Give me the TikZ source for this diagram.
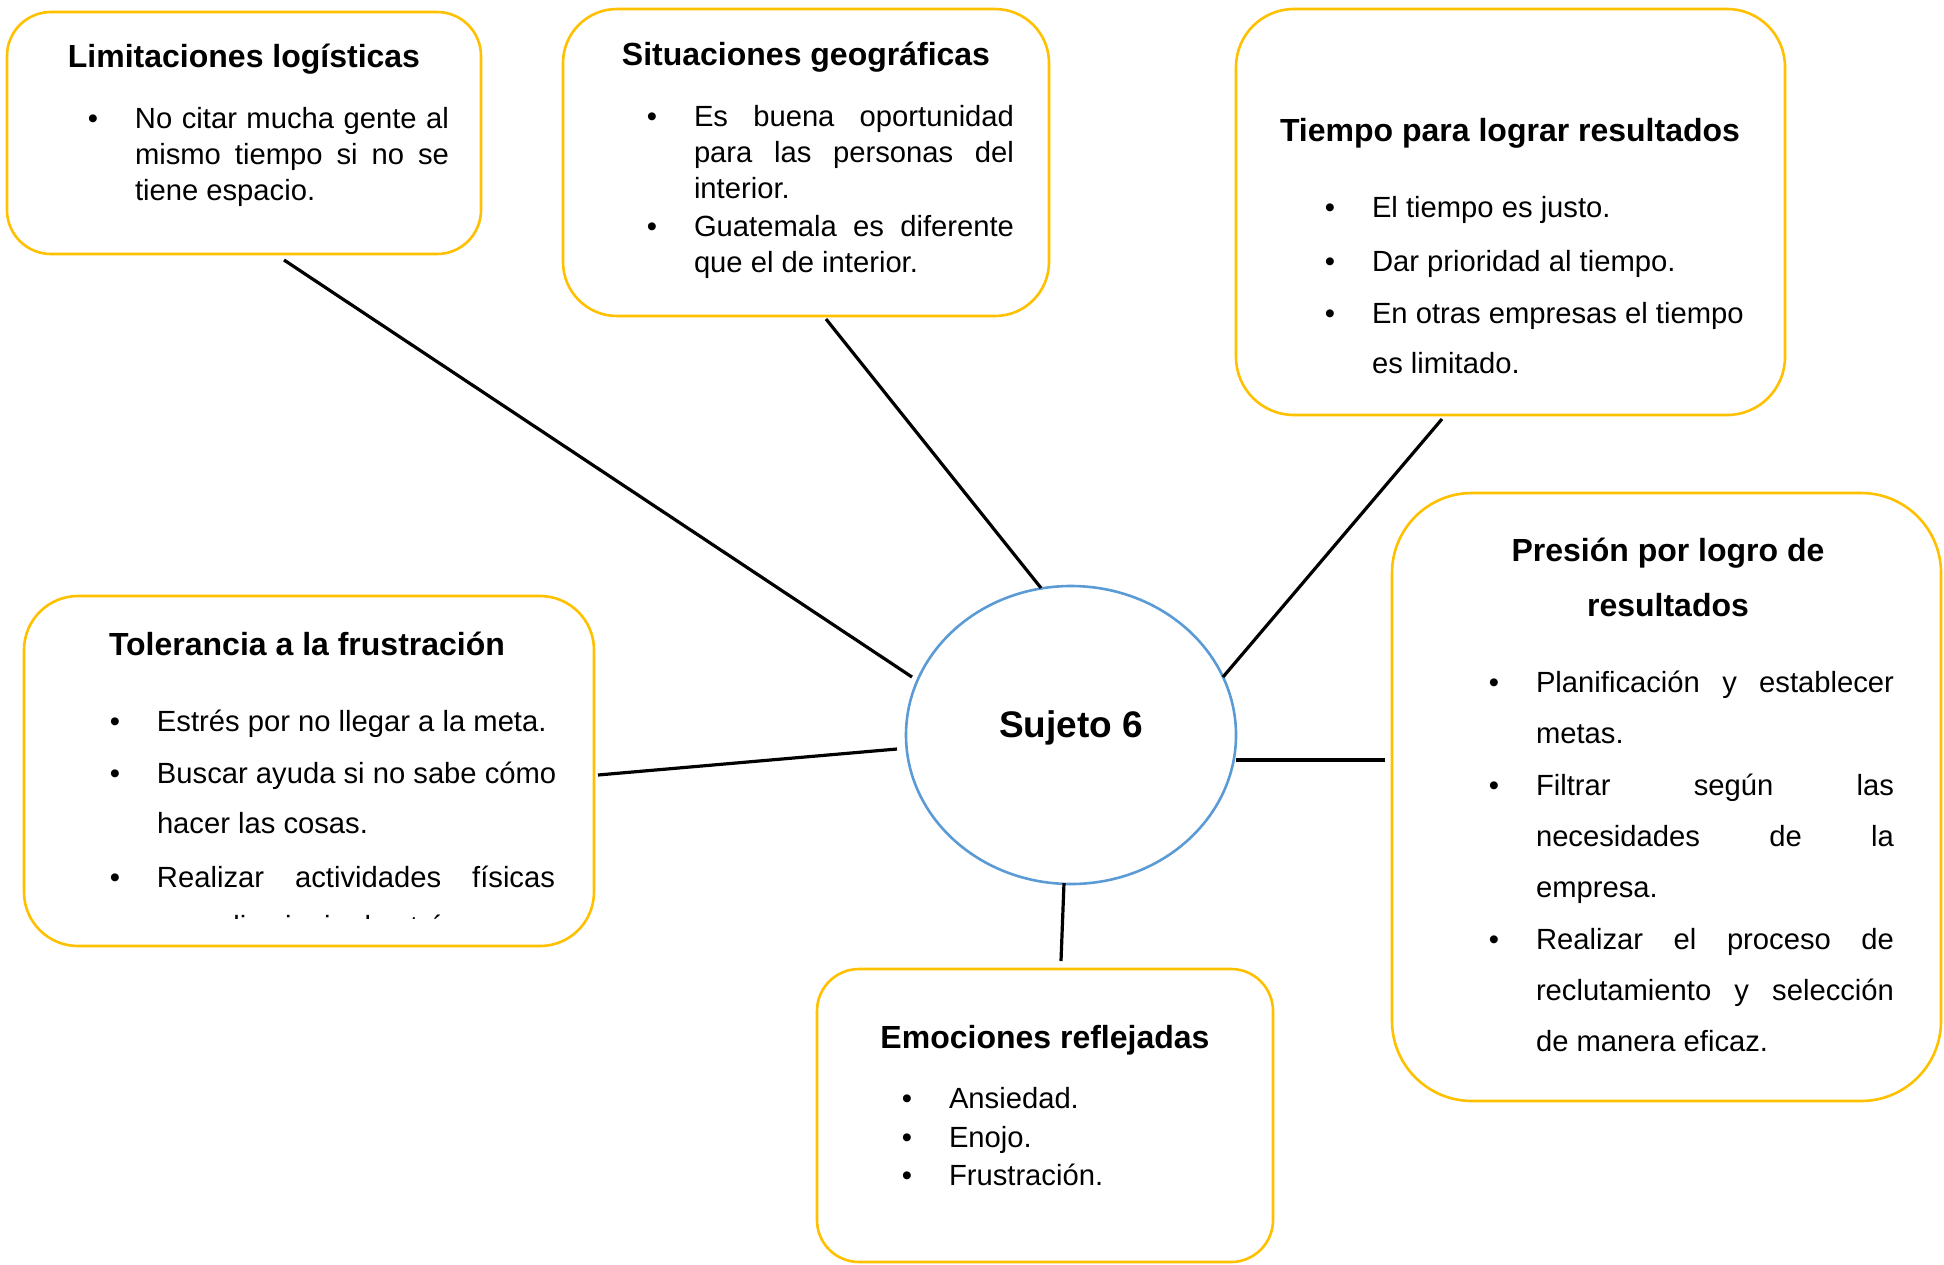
\documentclass[tikz,border=0pt]{standalone}
\usepackage{fontspec}
\setmainfont{Liberation Sans}
\usetikzlibrary{shapes.geometric}
\definecolor{gold}{HTML}{FFC000}
\definecolor{eblue}{HTML}{5B9BD5}
\newcommand\bodyfont[1]{\fontsize{14.6pt}{#1}\selectfont}
\newcommand\Jl[1]{\makebox[\linewidth][s]{#1}}
\newcommand\Lf[1]{\makebox[\linewidth][l]{#1}}
\newcommand\bul{\leavevmode\llap{\textbullet\hspace{18.5pt}}}
\begin{document}
\begin{tikzpicture}[x=0.5pt,y=-0.5pt,
  box/.style={draw=gold, line width=1.3pt, rounded corners=#1, inner sep=0pt, outer sep=0pt},
  ttl/.style={anchor=base, inner sep=0pt, font=\fontsize{16pt}{19pt}\selectfont\bfseries},
  txt/.style={anchor=base west, inner sep=0pt, outer sep=0pt},
  conn/.style={draw=black, line width=1.6pt}]
\useasboundingbox (0,0) rectangle (1944,1264);

% boxes
\node[box=22pt, minimum width=237pt, minimum height=121pt] (b1) at (244,133) {};
\node[box=27pt, minimum width=243pt, minimum height=153.5pt] (b2) at (806,162.5) {};
\node[box=29pt, minimum width=274.5pt, minimum height=203pt] (b3) at (1510.5,212) {};
\node[box=40pt, minimum width=274.5pt, minimum height=304pt] (b4) at (1666.5,797) {};
\node[box=27pt, minimum width=285pt, minimum height=175pt] (b5) at (309,771) {};
\node[box=21pt, minimum width=228pt, minimum height=146.5pt] (b6) at (1045,1115.5) {};

% central ellipse
\node[ellipse, draw=eblue, line width=1.3pt, minimum width=165pt, minimum height=149pt, inner sep=0pt] (c) at (1071,735) {};
\node[anchor=base, inner sep=0pt, font=\fontsize{18.5pt}{22pt}\selectfont\bfseries] (ct) at (1071,737) {Sujeto 6};

% Box 1
\node[ttl] (t1) at (244,67) {Limitaciones logísticas};
\node[txt] (l1) at (135,128) {\parbox[t]{157pt}{\bodyfont{18pt}\bul\Jl{No citar mucha gente al}\\\Jl{mismo tiempo si no se}\\\Lf{tiene espacio.}}};

% Box 2
\node[ttl] (t2) at (806,65) {Situaciones geográficas};
\node[txt] (s1) at (694,126) {\parbox[t]{160pt}{\bodyfont{18pt}\bul\Jl{Es buena oportunidad}\\\Jl{para las personas del}\\\Lf{interior.}}};
\node[txt] (s2) at (694,236) {\parbox[t]{160pt}{\bodyfont{18pt}\bul\Jl{Guatemala es diferente}\\\Lf{que el de interior.}}};

% Box 3
\node[ttl] (t3) at (1510,141) {Tiempo para lograr resultados};
\node[txt] (r1) at (1372,217) {\bodyfont{18pt}\bul El tiempo es justo.};
\node[txt] (r2) at (1372,271) {\bodyfont{18pt}\bul Dar prioridad al tiempo.};
\node[txt] (r3) at (1372,323) {\parbox[t]{200pt}{\bodyfont{25pt}\bul\Lf{En otras empresas el tiempo}\\\Lf{es limitado.}}};

% Box 4
\node[ttl] (t4a) at (1668,561) {Presión por logro de};
\node[ttl] (t4b) at (1668,616) {resultados};
\node[txt] (p1) at (1536,692) {\parbox[t]{179pt}{\bodyfont{25.6pt}\bul\Jl{Planificación y establecer}\\\Lf{metas.}}};
\node[txt] (p2) at (1536,795) {\parbox[t]{179pt}{\bodyfont{25.6pt}\bul\Jl{Filtrar según las}\\\Jl{necesidades de la}\\\Lf{empresa.}}};
\node[txt] (p3) at (1536,949) {\parbox[t]{179pt}{\bodyfont{25.6pt}\bul\Jl{Realizar el proceso de}\\\Jl{reclutamiento y selección}\\\Lf{de manera eficaz.}}};

% Box 5
\node[ttl] (t5) at (307,655) {Tolerancia a la frustración};
\node[txt] (f1) at (157,731) {\bodyfont{18pt}\bul Estrés por no llegar a la meta.};
\node[txt] (f2) at (157,783) {\parbox[t]{199pt}{\bodyfont{25.3pt}\bul\Lf{Buscar ayuda si no sabe cómo}\\\Lf{hacer las cosas.}}};
\node[txt] (f3) at (157,887) {\parbox[t]{199pt}{\bodyfont{26pt}\bul\Jl{Realizar actividades físicas}}};
\begin{scope}
\clip (24,596) rectangle (594,918.5);
\node[txt] (f4) at (157,936) {\bodyfont{26pt}para disminuir el estrés.};
\end{scope}

% Box 6
\node[ttl] (t6) at (1045,1048) {Emociones reflejadas};
\node[txt] (e1) at (949,1108) {\bodyfont{18pt}\bul Ansiedad.};
\node[txt] (e2) at (949,1147) {\bodyfont{18pt}\bul Enojo.};
\node[txt] (e3) at (949,1185) {\bodyfont{18pt}\bul Frustración.};

% connector end points
\coordinate (a1) at (284,260);  \coordinate (z1) at (912,677);
\coordinate (a2) at (826,319);  \coordinate (z2) at (1041,588);
\coordinate (a3) at (1442,419); \coordinate (z3) at (1223,677);
\coordinate (a4) at (1385,760); \coordinate (z4) at (1236,760);
\coordinate (a5) at (598,775);  \coordinate (z5) at (897,749);
\coordinate (a6) at (1061,961); \coordinate (z6) at (1064,883);

\draw[conn] (a1) -- (z1);
\draw[conn] (a2) -- (z2);
\draw[conn] (a3) -- (z3);
\draw[conn] (a4) -- (z4);
\draw[conn] (a5) -- (z5);
\draw[conn] (a6) -- (z6);
\end{tikzpicture}
\end{document}
